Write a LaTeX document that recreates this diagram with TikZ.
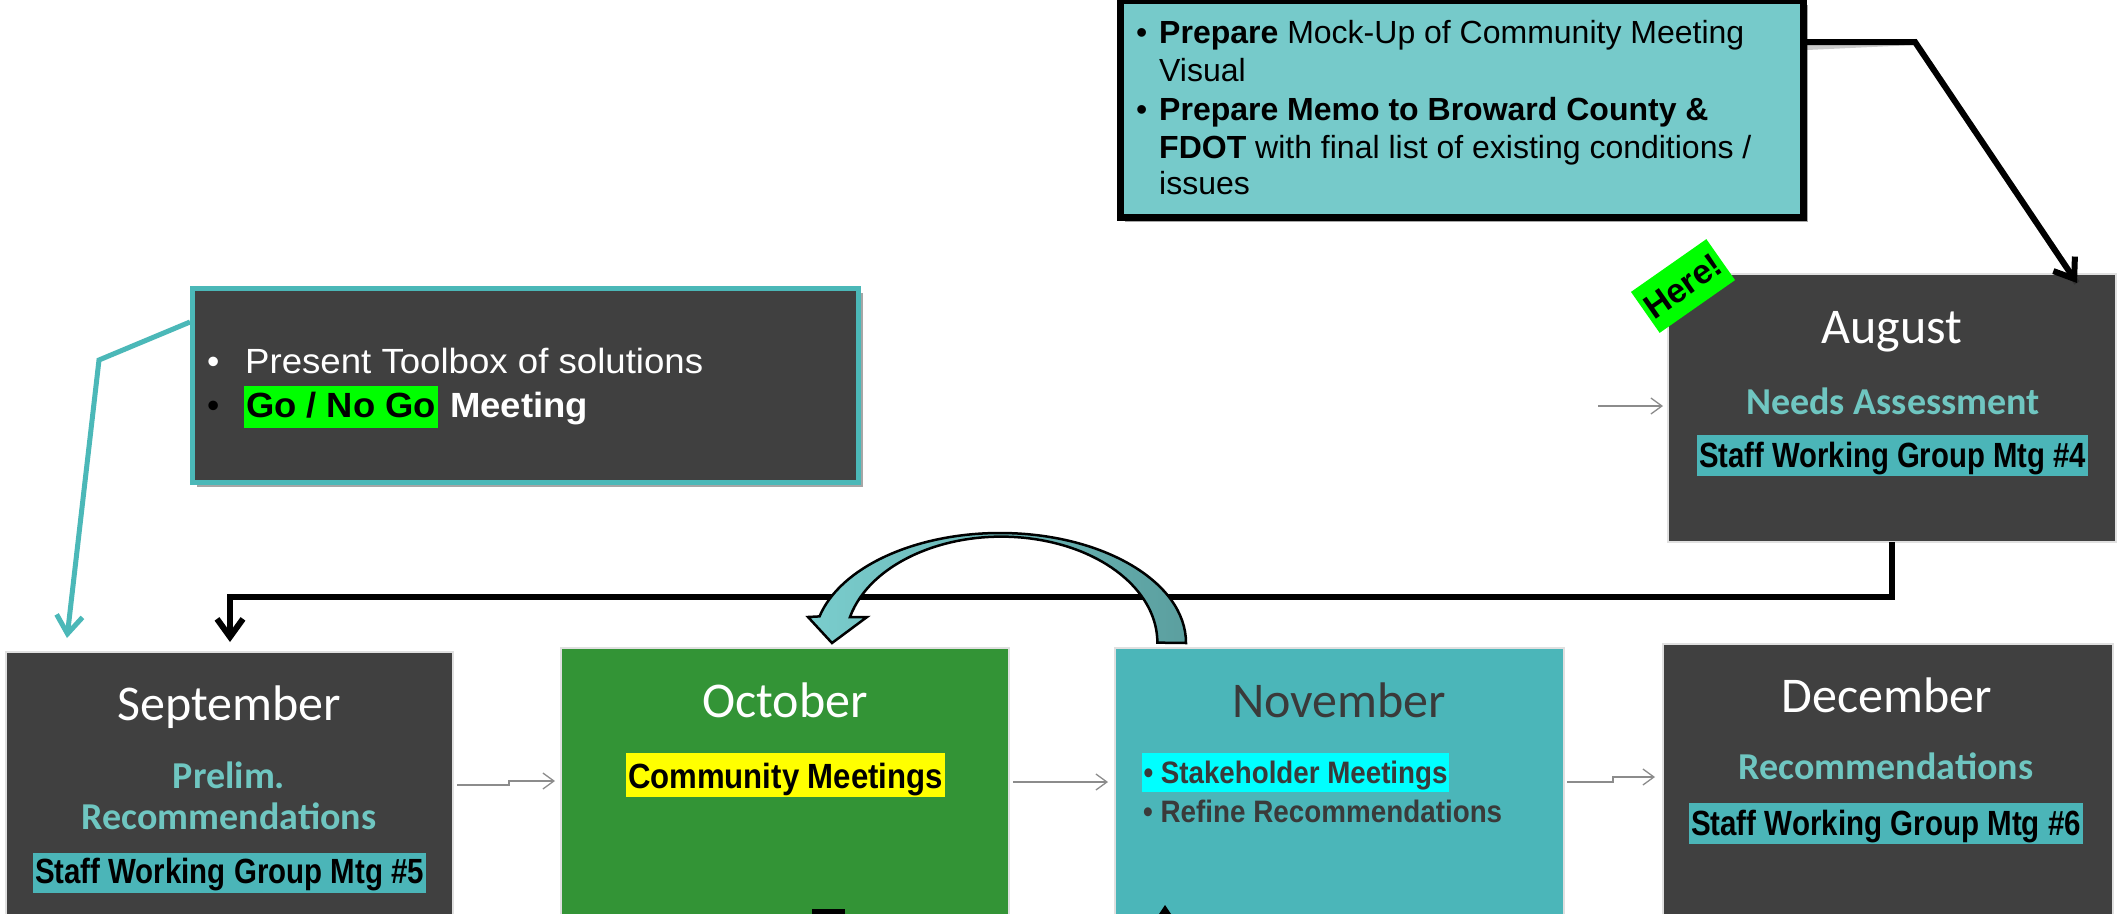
\documentclass[tikz,border=0pt]{standalone}
\usepackage{fontspec}
\usepackage{graphicx}
\setmainfont{Liberation Sans}
\newfontfamily\calfont{Carlito}
\usetikzlibrary{arrows.meta,shadows}
\definecolor{dgray}{HTML}{404040}
\definecolor{octgreen}{HTML}{339436}
\definecolor{novteal}{HTML}{4BB6B9}
\definecolor{calloutteal}{HTML}{76CACA}
\definecolor{hlteal}{HTML}{4BB5B8}
\definecolor{subteal}{HTML}{6FC6C1}
\definecolor{lineteal}{HTML}{4BB8B8}
\definecolor{arcL}{HTML}{7ACDCD}
\definecolor{arcR}{HTML}{5B9F9F}
\definecolor{hgreen}{HTML}{00FF00}
\definecolor{hyellow}{HTML}{FFFF00}
\definecolor{hcyan}{HTML}{00FFFF}
\definecolor{thingray}{HTML}{8C8C8C}
\definecolor{novtext}{HTML}{3A3A3A}
\newcommand\hsq[2]{\resizebox{#1pt}{\height}{#2}}
\newcommand\fs[1]{\fontsize{#1}{#1}\selectfont}
\tikzset{
  mbox/.style={rectangle, inner sep=0, outer sep=0, draw=black!12, line width=1.5pt, anchor=north west},
  mtitle/.style={anchor=base, inner sep=0, font=\calfont\fs{50}},
  msub/.style={anchor=base, inner sep=0, font=\calfont\bfseries\fs{38}, text=subteal},
  hl/.style={rectangle, inner sep=0, outer sep=0, anchor=north west, font=\bfseries},
  txt/.style={anchor=base west, inner sep=0},
  thinarrow/.style={draw=thingray, line width=1.3pt, -{Straight Barb[length=11pt,width=16pt]}},
  bigarrow/.style={line width=6pt, -{Straight Barb[length=18pt,width=26pt]}},
  boxshadow/.style={drop shadow={shadow xshift=5pt, shadow yshift=-5pt, opacity=.35, fill=black}}
}
\begin{document}
\begin{tikzpicture}[x=1pt,y=-1pt]
\useasboundingbox (0,0) rectangle (2124,913);
\fill[white] (0,0) rectangle (2124,913);
\clip (0,0) rectangle (2124,913);

% ---------- month boxes ----------
\node[mbox, fill=dgray, minimum width=448pt, minimum height=268pt] (aug) at (1668,274) {};
\node[mbox, fill=dgray, minimum width=447pt, minimum height=265pt] (sept) at (6,652) {};
\node[mbox, fill=octgreen, minimum width=448pt, minimum height=268pt] (oct) at (561,648) {};
\node[mbox, fill=novteal, minimum width=449pt, minimum height=268pt] (nov) at (1115,648) {};
\node[mbox, fill=dgray, minimum width=450pt, minimum height=272pt] (dec) at (1663,644) {};

% August
\node[mtitle, text=white] (augT) at (1892,343) {August};
\node[msub] (augS) at (1893,414) {Needs Assessment};
\node[hl, fill=hlteal, minimum width=391pt, minimum height=41pt, text height=32pt, text depth=9pt, font=\bfseries\fs{35}] (augstaff) at (1697,435) {\hsq{387}{Staff Working Group Mtg \#4}};

% September
\node[mtitle, text=white] (septT) at (229,720) {September};
\node[msub] (septS1) at (229,788) {Prelim.};
\node[msub] (septS2) at (229,829) {Recommendations};
\node[hl, fill=hlteal, minimum width=393pt, minimum height=40pt, text height=30pt, text depth=10pt, font=\bfseries\fs{35}] (septstaff) at (33,853) {\hsq{389}{Staff Working Group Mtg \#5}};

% October
\node[mtitle, text=white] (octT) at (785,717) {October};
\node[hl, fill=hyellow, minimum width=319pt, minimum height=44pt, text height=35pt, text depth=9pt, font=\bfseries\fs{35}] (commmtg) at (626,753) {\hsq{315}{Community Meetings}};

% November
\node[mtitle, text=novtext] (novT) at (1339,717) {November};
\node[hl, fill=hcyan, text=novtext, minimum width=307pt, minimum height=39pt, text height=30pt, text depth=9pt, font=\bfseries\fs{31}] (stake) at (1142,753) {\hsq{304}{\textbullet\ Stakeholder Meetings}};
\node[txt, text=novtext, font=\bfseries\fs{31}] (refine) at (1143,822) {\hsq{359}{\textbullet\ Refine Recommendations}};

% December
\node[mtitle, text=white] (decT) at (1887,712) {December};
\node[msub] (decS) at (1886,779) {Recommendations};
\node[hl, fill=hlteal, minimum width=394pt, minimum height=41pt, text height=32pt, text depth=9pt, font=\bfseries\fs{35}] (decstaff) at (1689,803) {\hsq{390}{Staff Working Group Mtg \#6}};

% Here! tag
\node[fill=hgreen, rotate=35, minimum width=92pt, minimum height=50pt, inner sep=0, font=\bfseries\fs{34}] (here) at (1683,286) {Here!};

% ---------- thin arrows ----------
\coordinate (augin) at (1598,406);
\draw[thinarrow, shorten >=5pt] (augin) -- (aug.west |- augin);
\draw[thinarrow, shorten <=4pt, shorten >=6pt] (sept.east |- 0,785) -- (509,785) -- (509,781) -- (oct.west |- 0,781);
\draw[thinarrow, shorten <=4pt, shorten >=7pt] (oct.east |- 0,782) -- (nov.west |- 0,782);
\draw[thinarrow, shorten <=3pt, shorten >=8pt] (nov.east |- 0,782) -- (1613,782) -- (1613,777) -- (dec.west |- 0,777);

% ---------- August -> September connector ----------
\coordinate (septin) at (230,642);
\draw[bigarrow] (aug.south) -- (aug.south |- 0,597) -| (septin);

% ---------- curved block arrow November -> October ----------
\draw[left color=arcL, right color=arcR, draw=black, line width=2.5pt, line join=miter]
  (1186,643) arc[start angle=0, end angle=-166, x radius=186, y radius=110]
  -- (808,617) -- (832,643) -- (867,617) -- (850,617)
  arc[start angle=-166, end angle=0, x radius=156, y radius=106] -- cycle;

% ---------- top callout ----------
\coordinate (augtopin) at (2077,283);
\coordinate (bend1) at (1915,42);
\draw[line width=6pt, black, opacity=.2, shift={(4,5)}] (1803,42) -- (bend1) -- (augtopin);
\node[draw=black, line width=7pt, fill=calloutteal, anchor=north west, minimum width=683pt, minimum height=217pt, inner sep=0, boxshadow] (callout) at (1116.5,-3.5) {};
\draw[bigarrow, line join=miter] (callout.east |- bend1) -- (bend1) -- (augtopin);
\node[txt, font=\fs{32}] (c1b) at (1136,43) {\textbullet};
\node[txt, font=\fs{32}] (c1) at (1159,43) {\textbf{Prepare} Mock-Up of Community Meeting};
\node[txt, font=\fs{32}] (c2) at (1159,81) {Visual};
\node[txt, font=\fs{32}] (c3b) at (1136,120) {\textbullet};
\node[txt, font=\bfseries\fs{32}] (c3) at (1159,120) {Prepare Memo to Broward County \&};
\node[txt, font=\fs{32}] (c4) at (1159,158) {\textbf{FDOT} with final list of existing conditions /};
\node[txt, font=\fs{32}] (c5) at (1159,194) {issues};

% ---------- toolbox callout ----------
\coordinate (tealbend) at (99,360);
\coordinate (tealin) at (67,638);
\draw[bigarrow, draw=lineteal, line width=5pt, line join=miter] (190,322) -- (tealbend) -- (tealin);
\node[draw=lineteal, line width=5pt, fill=dgray, anchor=north west, minimum width=666pt, minimum height=194pt, inner sep=0, boxshadow] (toolbox) at (189.5,285.5) {};
\node[txt, text=white, font=\fs{35}] (t1b) at (207,373) {\textbullet};
\node[txt, text=white, font=\fs{35}] (t1) at (245,373) {\hsq{458}{Present Toolbox of solutions}};
\node[txt, text=black, font=\fs{35}] (t2b) at (207,417) {\textbullet};
\node[hl, fill=hgreen, minimum width=194pt, minimum height=42pt, text height=31pt, text depth=11pt, font=\bfseries\fs{35}] (gonogo) at (244,386) {\hsq{190}{Go / No Go}};
\node[txt, text=white, font=\bfseries\fs{35}] (t2) at (450,417) {\hsq{138}{Meeting}};

% ---------- fragments cut off at the bottom edge ----------
\fill[black] (812,909) rectangle (845,915);
\fill[black] (1159,914) -- (1165,905) -- (1171,914) -- cycle;
\end{tikzpicture}
\end{document}
